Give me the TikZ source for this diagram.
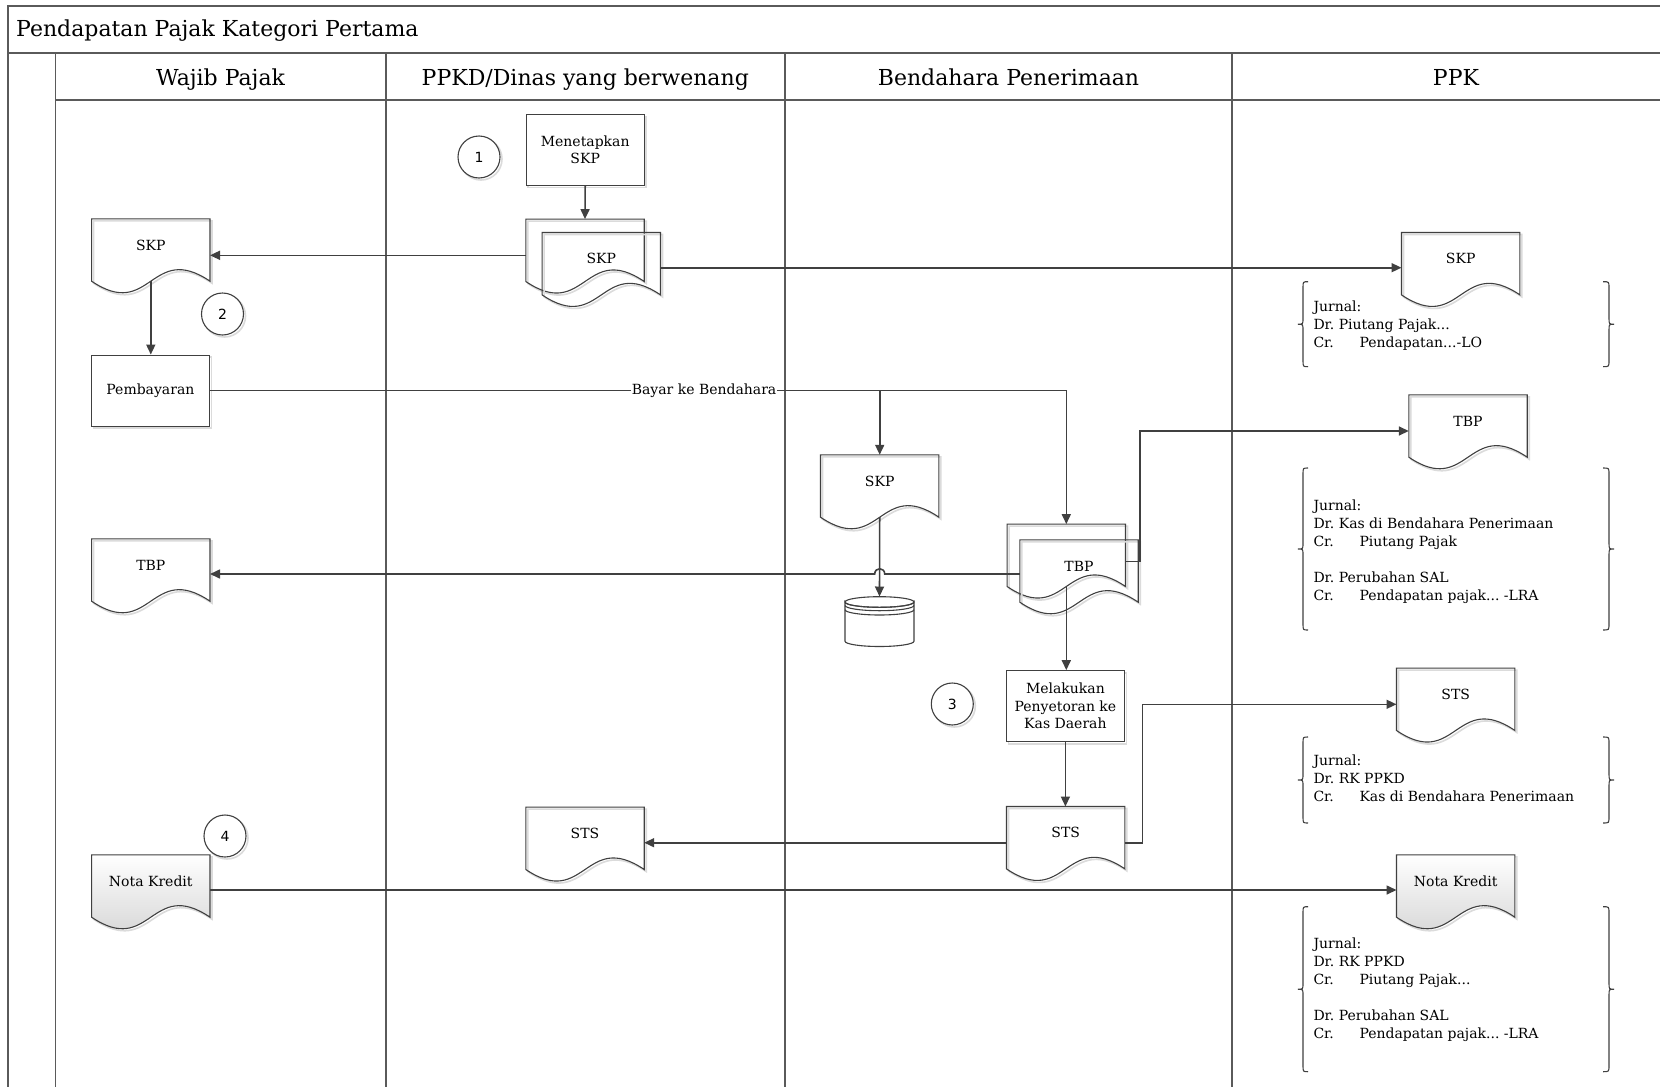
\documentclass[tikz,border=0pt]{standalone}
\usepackage{fontspec}
\setmainfont{DejaVu Serif}
\newfontfamily\numfont{DejaVu Sans}
\usetikzlibrary{calc,arrows.meta}
\frenchspacing

\definecolor{ink}{HTML}{404040}
\definecolor{lanegray}{HTML}{5A5A5A}

% document symbol: box node, wavy outline, caption
\newcommand\docnode[5][]{%
  \node[docbox] (#2) at (#3+59,#4+31) {};
  \draw[docshadow,transform canvas={xshift=2pt,yshift=-2pt}]
    (#2.north west) -- (#2.south west)
    .. controls ($(#2.south)+(0,40)$) and ($(#2.south)+(0,-40)$) .. (#2.south east)
    -- (#2.north east) -- cycle;
  \draw[docline,#1]
    (#2.north west) -- (#2.south west)
    .. controls ($(#2.south)+(0,40)$) and ($(#2.south)+(0,-40)$) .. (#2.south east)
    -- (#2.north east) -- cycle;
  \node[doctext] (#2-lbl) at ($(#2)+(0,-5)$) {#5};
}

% curly bracket pair around a journal entry
\newcommand\jbrace[2]{%
  \draw[bracket] (1308,#1) .. controls (1303,#1) .. (1303,#1+6)
    -- (1303,{(#1+#2)/2-6}) .. controls (1303,{(#1+#2)/2}) .. (1298,{(#1+#2)/2})
    .. controls (1303,{(#1+#2)/2}) .. (1303,{(#1+#2)/2+6})
    -- (1303,#2-6) .. controls (1303,#2) .. (1308,#2);
  \draw[bracket] (1603,#1) .. controls (1609,#1) .. (1609,#1+6)
    -- (1609,{(#1+#2)/2-6}) .. controls (1609,{(#1+#2)/2}) .. (1614,{(#1+#2)/2})
    .. controls (1609,{(#1+#2)/2}) .. (1609,{(#1+#2)/2+6})
    -- (1609,#2-6) .. controls (1609,#2) .. (1603,#2);
}
\newcommand\crtab{\makebox[46pt][l]{Cr.}}

\begin{document}
\begin{tikzpicture}[x=1pt,y=-1pt,
  frame/.style={draw=lanegray,line width=1.6pt},
  docbox/.style={minimum width=118pt,minimum height=62pt,inner sep=0pt,draw=none},
  docline/.style={draw=ink,line width=1.1pt},
  docshadow/.style={draw=black!14,line width=1.6pt},
  doctext/.style={inner sep=0pt,font=\fontsize{14pt}{17.5pt}\selectfont},
  procbox/.style={draw=ink,line width=1.1pt,fill=white,minimum width=118pt,minimum height=71pt,
    inner sep=0pt,align=center,font=\fontsize{14pt}{17.5pt}\selectfont,
    preaction={draw=black!14,line width=1.6pt,transform canvas={xshift=2pt,yshift=-2pt}}},
  stepnum/.style={circle,draw=ink,line width=1.1pt,fill=white,minimum size=42pt,inner sep=0pt,
    font=\numfont\fontsize{14pt}{14pt}\selectfont,
    preaction={draw=black!14,line width=1.6pt,transform canvas={xshift=2pt,yshift=-2pt}}},
  conn/.style={draw=ink,line width=1.6pt},
  arr/.style={conn,-{Triangle[length=10pt,width=9pt]}},
  lbl/.style={fill=white,inner sep=1pt,font=\fontsize{14pt}{17pt}\selectfont},
  hdr/.style={anchor=base,inner sep=0pt,font=\fontsize{22pt}{26pt}\selectfont},
  jrnl/.style={anchor=base west,inner sep=0pt,font=\fontsize{14pt}{18pt}\selectfont},
  bracket/.style={draw=ink,line width=1.1pt}
]
\useasboundingbox (0,0) rectangle (1660,1087);
\clip (0,0) rectangle (1660,1087);
\fill[white] (0,0) rectangle (1660,1087);

% pool and lanes
\draw[frame] (7.9,1100) -- (7.9,5.7) -- (1700,5.7);
\draw[frame] (7.9,52.7) -- (1700,52.7);
\draw[frame] (55.4,1100) -- (55.4,52.7);
\draw[frame] (55.4,100) -- (1700,100);
\foreach \x in {385.7,785,1232} \draw[frame] (\x,52.7) -- (\x,1100);

\node[anchor=base west,inner sep=0pt,font=\fontsize{22pt}{26pt}\selectfont] (title) at (16,36.7) {Pendapatan Pajak Kategori Pertama};
\node[hdr] (laneWP) at (220.5,85) {Wajib Pajak};
\node[hdr] (lanePPKD) at (585.3,85) {PPKD/Dinas yang berwenang};
\node[hdr] (laneBP) at (1008.5,85) {Bendahara Penerimaan};
\node[hdr] (lanePPK) at (1456,85) {PPK};

% process boxes
\node[procbox] (menetapkan) at (585.2,150) {Menetapkan\\SKP};
\node[procbox] (pembayaran) at (150.4,390.6) {Pembayaran};
\node[procbox] (melakukan) at (1065.4,706.2) {Melakukan\\Penyetoran ke\\Kas Daerah};

% step numbers
\node[stepnum] (n1) at (479,157) {1};
\node[stepnum] (n2) at (222.5,314) {2};
\node[stepnum] (n3) at (952.3,704) {3};
\node[stepnum] (n4) at (225,836) {4};

% documents
\docnode{skpW}{91.8}{219}{SKP}
\docnode{skpPb}{526}{219.3}{}
\docnode{skpP}{542.3}{232.7}{SKP}
\docnode{skpK}{1401.7}{232.7}{SKP}
\docnode{skpB}{820.7}{455}{SKP}
\docnode{tbpBb}{1007.3}{524.3}{}
\docnode{tbpB}{1020}{540}{TBP}
\docnode{tbpK}{1409}{395}{TBP}
\docnode{tbpW}{91.8}{539}{TBP}
\docnode{stsK}{1396.7}{668.3}{STS}
\docnode{stsB}{1006.7}{806.7}{STS}
\docnode{stsP}{526}{807.3}{STS}
\docnode[top color=white,bottom color=black!20]{notaW}{91.8}{855}{Nota Kredit}
\docnode[top color=white,bottom color=black!20]{notaK}{1396.7}{855}{Nota Kredit}

% archive store
\node[docbox,minimum width=69pt,minimum height=50pt] (db) at (879.5,621.7) {};
\draw[docline,fill=white] (845,602) arc[start angle=180,end angle=360,x radius=34.5pt,y radius=5.3pt]
  -- (914,641.2) arc[start angle=0,end angle=-180,x radius=34.5pt,y radius=5.3pt] -- cycle;
\draw[docline] (879.5,602) ellipse [x radius=34.5pt,y radius=5.3pt];
\draw[docline] (845,605.4) arc[start angle=180,end angle=360,x radius=34.5pt,y radius=5.3pt];
\draw[docline] (845,609.7) arc[start angle=180,end angle=360,x radius=34.5pt,y radius=5.3pt];

% flows
\draw[arr] (menetapkan.south) -- (skpPb.north);
\draw[arr] ($(skpPb.west)+(0,5)$) coordinate (c2s) -- (skpW.east |- c2s);
\draw[arr] ($(skpP.east)+(0,4)$) coordinate (c3s) -- (skpK.west |- c3s);
\draw[arr] (skpW.south) -- (skpW.south |- pembayaran.north);
\draw[arr] (pembayaran.east) -- node[lbl,pos=0.577] (bayar) {Bayar ke Bendahara}
  (tbpBb.north |- pembayaran.east) -- (tbpBb.north);
\draw[arr] (skpB.north |- pembayaran.east) -- (skpB.north);
\draw[arr] (skpB.south) -- (db.north);
\draw[arr] ($(tbpB.west)+(0,3)$) coordinate (c8s) -- ($(skpB.south |- c8s)+(5,0)$)
  .. controls +(0,-7) and +(0,-7) .. ($(skpB.south |- c8s)+(-5,0)$) -- (tbpW.east |- c8s);
\coordinate (c9e) at ($(tbpK.west)+(0,5)$);
\draw[arr] ($(tbpBb.east)+(0,6)$) coordinate (c9s) -- ($(tbpB.east |- c9s)+(1.5,0)$) |- (c9e);
\draw[arr] (tbpBb.south) -- (tbpBb.south |- melakukan.north);
\draw[arr] (melakukan.south) -- (melakukan.south |- stsB.north);
\draw[arr] ($(stsB.west)+(0,5)$) coordinate (c12s) -- (stsP.east |- c12s);
\coordinate (c13e) at ($(stsK.west)+(0,5)$);
\draw[arr] ($(stsB.east)+(0,5)$) -- ++(17.7,0) |- (c13e);
\draw[arr] ($(notaW.east)+(0,4)$) coordinate (c14s) -- (notaK.west |- c14s);

% journal entries
\jbrace{281.7}{366.7}
\node[jrnl] (j1) at (1313.3,311.7) {\begin{tabular}[t]{@{}l@{}}Jurnal:\\Dr. Piutang Pajak...\\\crtab Pendapatan...-LO\end{tabular}};
\jbrace{468}{630}
\node[jrnl] (j2) at (1313.3,510) {\begin{tabular}[t]{@{}l@{}}Jurnal:\\Dr. Kas di Bendahara Penerimaan\\\crtab Piutang Pajak\\ \\Dr. Perubahan SAL\\\crtab Pendapatan pajak... -LRA\end{tabular}};
\jbrace{737}{823}
\node[jrnl] (j3) at (1313.3,765.7) {\begin{tabular}[t]{@{}l@{}}Jurnal:\\Dr. RK PPKD\\\crtab Kas di Bendahara Penerimaan\end{tabular}};
\jbrace{906.7}{1071.7}
\node[jrnl] (j4) at (1313.3,948.5) {\begin{tabular}[t]{@{}l@{}}Jurnal:\\Dr. RK PPKD\\\crtab Piutang Pajak...\\ \\Dr. Perubahan SAL\\\crtab Pendapatan pajak... -LRA\end{tabular}};
\end{tikzpicture}
\end{document}
